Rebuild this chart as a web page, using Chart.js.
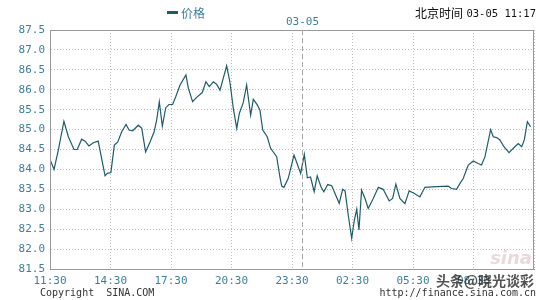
<!DOCTYPE html>
<html lang="zh">
<head>
<meta charset="UTF-8">
<title>价格</title>
<script src="https://cdn.jsdelivr.net/npm/chart.js@4/dist/chart.umd.min.js"></script>
<style>
  html, body { margin: 0; padding: 0; background: #fff; }
  #wrap { position: relative; width: 540px; height: 300px; }
</style>
</head>
<body>
<div id="wrap"><canvas id="chart" width="540" height="300"></canvas></div>
<script>
// hours since 11:30 (03-04) and price
const hours = [0.00, 0.20, 0.41, 0.69, 0.91, 1.19, 1.35, 1.57, 1.74, 1.93, 2.15, 2.39, 2.73, 2.84, 3.02,
  3.19, 3.36, 3.55, 3.77, 3.92, 4.10, 4.38, 4.55, 4.74, 4.96, 5.16, 5.29, 5.42, 5.57, 5.74, 5.90,
  6.08, 6.23, 6.45, 6.74, 6.86, 7.07, 7.30, 7.55, 7.73, 7.90, 8.10, 8.26, 8.43, 8.76, 8.92, 9.09,
  9.26, 9.39, 9.58, 9.75, 9.95, 10.08, 10.28, 10.41, 10.55, 10.77, 10.94, 11.24, 11.40, 11.49,
  11.60, 11.81, 12.10, 12.43, 12.61, 12.76, 12.92, 13.10, 13.25, 13.44, 13.58, 13.77, 13.97,
  14.34, 14.51, 14.63, 14.79, 14.96, 15.09, 15.21, 15.32, 15.45, 15.62, 15.78, 16.03, 16.28,
  16.52, 16.82, 16.99, 17.15, 17.35, 17.60, 17.81, 18.05, 18.34, 18.59, 18.92, 19.75, 19.91,
  20.16, 20.33, 20.49, 20.74, 20.99, 21.23, 21.40, 21.57, 21.85, 21.98, 22.15, 22.31, 22.51,
  22.76, 23.05, 23.22, 23.39, 23.52, 23.67, 23.83];
const prices = [84.25, 84.00, 84.48, 85.21, 84.82, 84.50, 84.50, 84.76, 84.71, 84.59, 84.67, 84.71, 83.84, 83.90, 83.92,
  84.61, 84.69, 84.94, 85.13, 84.99, 84.97, 85.11, 85.03, 84.44, 84.69, 84.94, 85.24, 85.70, 85.09, 85.55, 85.63,
  85.63, 85.82, 86.12, 86.37, 86.04, 85.70, 85.82, 85.93, 86.20, 86.08, 86.20, 86.14, 85.99, 86.60, 86.20, 85.53,
  85.03, 85.41, 85.67, 86.12, 85.36, 85.76, 85.62, 85.49, 84.99, 84.82, 84.53, 84.32, 83.81, 83.58,
  83.55, 83.77, 84.36, 83.90, 84.38, 83.79, 83.81, 83.44, 83.84, 83.56, 83.44, 83.62, 83.59,
  83.15, 83.50, 83.46, 82.85, 82.27, 82.73, 83.00, 82.48, 83.48, 83.27, 83.02, 83.27, 83.55,
  83.50, 83.21, 83.27, 83.63, 83.27, 83.14, 83.46, 83.40, 83.31, 83.55, 83.56, 83.58, 83.52,
  83.50, 83.65, 83.77, 84.11, 84.21, 84.15, 84.11, 84.32, 85.00, 84.82, 84.80, 84.74, 84.57,
  84.42, 84.57, 84.65, 84.57, 84.74, 85.20, 85.07];
const timeLabels = ['11:30', '14:30', '17:30', '20:30', '23:30', '02:30', '05:30', '08:30', ''];
const dayBreak = 12.5;   // 00:00 on 03-05
const dayLabel = '03-05';

const lineColor = '#1f5c6a';
const tickColor = '#3f7f98';
const mono = '"DejaVu Sans Mono", "Liberation Mono", monospace';
const cjk = '"Noto Sans CJK SC", "Noto Sans", sans-serif';

const decor = {
  id: 'decor',
  afterDraw(chart) {
    const { ctx, chartArea: a, scales } = chart;
    ctx.save();
    // frame
    ctx.strokeStyle = '#9a9a9a';
    ctx.lineWidth = 1;
    ctx.strokeRect(a.left + 0.5, a.top + 0.5, a.right - a.left - 1, a.bottom - a.top);
    // day break dashed line
    const xb = Math.round(scales.x.getPixelForValue(dayBreak)) + 0.5;
    ctx.strokeStyle = '#a8a8a8';
    ctx.setLineDash([5, 3]);
    ctx.beginPath();
    ctx.moveTo(xb, a.top);
    ctx.lineTo(xb, a.bottom);
    ctx.stroke();
    ctx.setLineDash([]);
    ctx.fillStyle = tickColor;
    ctx.font = '11px ' + mono;
    ctx.textAlign = 'center';
    ctx.textBaseline = 'middle';
    ctx.fillText(dayLabel, xb, 22);
    // legend
    ctx.fillStyle = lineColor;
    ctx.fillRect(167, 11, 11, 3);
    ctx.fillStyle = tickColor;
    ctx.font = '12px ' + cjk;
    ctx.textAlign = 'left';
    ctx.fillText('价格', 181, 13);
    // clock
    ctx.fillStyle = '#111';
    ctx.font = '12px ' + cjk;
    ctx.textAlign = 'right';
    ctx.fillText('北京时间', 463, 13);
    ctx.font = '10.5px ' + mono;
    ctx.fillText('03-05 11:17', 536, 14);
    // footer
    ctx.fillStyle = '#333';
    ctx.font = '10px ' + mono;
    ctx.textAlign = 'left';
    ctx.fillText('Copyright  SINA.COM', 40, 293);
    ctx.textAlign = 'right';
    ctx.fillText('http://finance.sina.com.cn', 536, 293);
    // sina mark
    ctx.fillStyle = 'rgba(200,160,160,0.4)';
    ctx.font = 'italic bold 18px "DejaVu Sans", sans-serif';
    ctx.fillText('sina', 532, 259);
    // overlay text
    ctx.fillStyle = 'rgba(40,40,40,0.8)';
    ctx.font = 'bold 14px ' + cjk;
    ctx.fillText('头条@晓光谈彩', 534, 281);
    ctx.restore();
  }
};

new Chart(document.getElementById('chart'), {
  type: 'line',
  data: {
    datasets: [{
      label: '价格',
      data: hours.map((h, i) => ({ x: h, y: prices[i] })),
      borderColor: lineColor,
      borderWidth: 1.2,
      pointRadius: 0,
      tension: 0,
      fill: false
    }]
  },
  options: {
    responsive: false,
    animation: false,
    layout: { padding: { top: 30, right: 6, left: 0, bottom: 0 } },
    plugins: { legend: { display: false }, tooltip: { enabled: false } },
    scales: {
      x: {
        type: 'linear',
        min: 0,
        max: 24,
        afterFit(s) { s.height = 31; },
        afterBuildTicks(s) { s.ticks = timeLabels.map((t, i) => ({ value: i * 3 })); },
        grid: { color: '#bdbdbd', lineWidth: 1, drawTicks: false },
        border: { display: true, color: '#9a9a9a', dash: [1, 2] },
        ticks: {
          maxRotation: 0,
          autoSkip: false,
          padding: 6,
          color: tickColor,
          font: { family: mono, size: 11 },
          callback: (v) => timeLabels[Math.round(v / 3)]
        }
      },
      y: {
        min: 81.5,
        max: 87.5,
        afterFit(s) { s.width = 50; },
        grid: { color: '#bdbdbd', lineWidth: 1, drawTicks: false },
        border: { display: true, color: '#9a9a9a', dash: [1, 2] },
        ticks: {
          stepSize: 0.5,
          padding: 5,
          color: tickColor,
          font: { family: mono, size: 11 },
          callback: (v) => v.toFixed(1)
        }
      }
    }
  },
  plugins: [decor]
});
</script>
</body>
</html>
